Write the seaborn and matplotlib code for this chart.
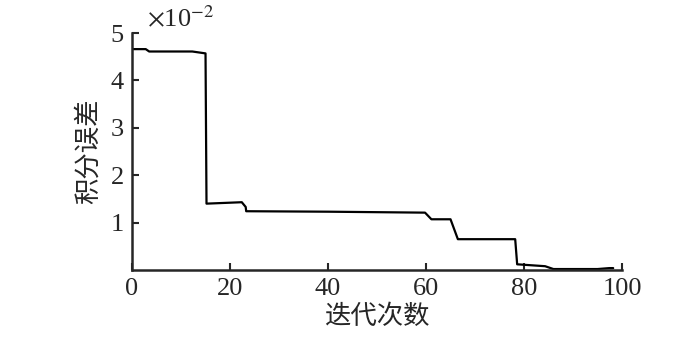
import matplotlib
matplotlib.use("Agg")
import matplotlib.pyplot as plt
import seaborn as sns
import pandas as pd

# ---------------- DATA (integral error, units of 1e-2) ----------------
iters = [0, 2.8, 3.5, 12.3, 15.0, 15.2, 22.4, 23.2, 23.3, 40, 59.8, 61.1, 65.0,
         66.5, 78.2, 78.6, 84.3, 86.0, 95, 97.4, 98.2]
err = [4.66, 4.66, 4.61, 4.61, 4.57, 1.40, 1.43, 1.33, 1.24, 1.23, 1.21, 1.07,
       1.07, 0.65, 0.65, 0.12, 0.08, 0.02, 0.02, 0.04, 0.04]
xticks = [0, 20, 40, 60, 80, 100]
yticks = [1, 2, 3, 4, 5]

df = pd.DataFrame({"iter": iters, "err": err})

sns.set_style("ticks")
plt.rcParams["font.family"] = ["Liberation Serif", "Noto Sans CJK SC"]
plt.rcParams["mathtext.fontset"] = "stix"

fig = plt.figure(figsize=(7, 3.4), dpi=100)
ax = fig.add_axes([0.1886, 0.2059, 0.70, 0.697])

sns.lineplot(data=df, x="iter", y="err", color="black", linewidth=1.6, ax=ax,
             estimator=None, sort=False)

ax.set_xlim(0, 100)
ax.set_ylim(0, 5)
ax.set_xticks(xticks)
ax.set_yticks(yticks)
ax.tick_params(direction="in", length=5, width=1.5, labelsize=19, pad=6)
for s in ["top", "right"]:
    ax.spines[s].set_visible(False)
for s in ["left", "bottom"]:
    ax.spines[s].set_linewidth(1.8)

ax.set_xlabel("迭代次数", fontsize=19, family="Noto Sans CJK SC", labelpad=2)
ax.set_ylabel("积分误差", fontsize=19, family="Noto Sans CJK SC", labelpad=6)
ax.text(0.03, 1.005, r"$\times$10$^{-2}$", transform=ax.transAxes,
        fontsize=19, ha="left", va="bottom")

fig.savefig("out.png", dpi=100)
